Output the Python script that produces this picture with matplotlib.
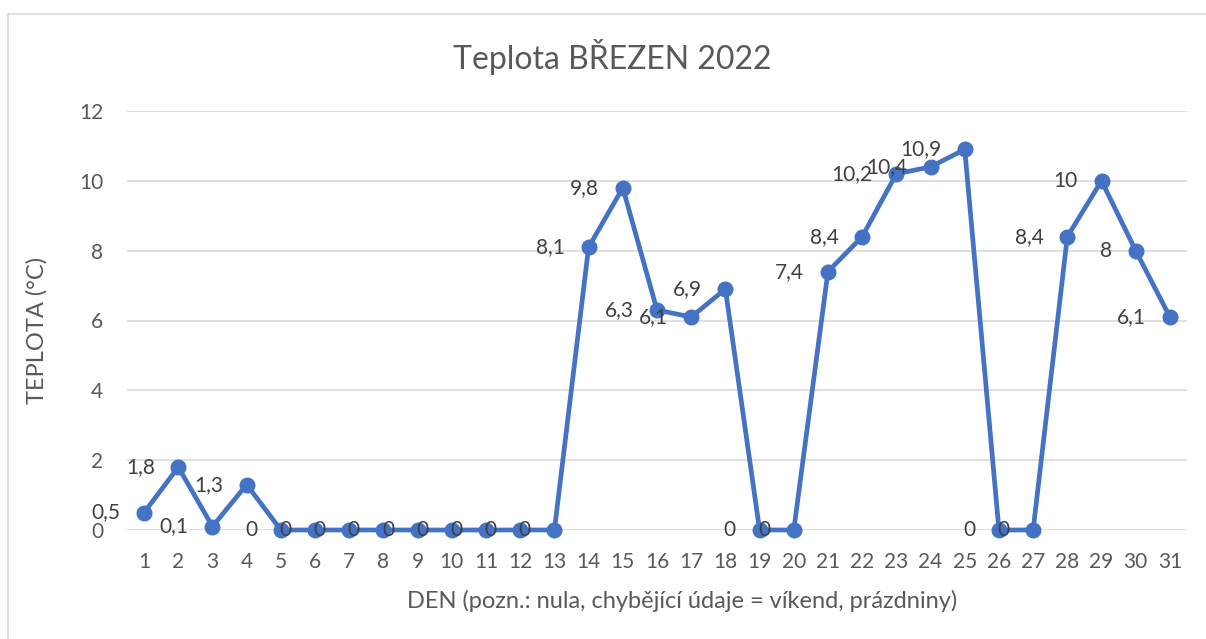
import matplotlib.pyplot as plt
from matplotlib.lines import Line2D

days = list(range(1, 32))
teplota = [0.5, 1.8, 0.1, 1.3, 0, 0, 0, 0, 0, 0, 0, 0, 0,
           8.1, 9.8, 6.3, 6.1, 6.9, 0, 0, 7.4, 8.4, 10.2, 10.4, 10.9,
           0, 0, 8.4, 10, 8, 6.1]
y_ticks = [0, 2, 4, 6, 8, 10, 12]


def fmt(v):
    return ("%g" % v).replace(".", ",")


def main():
    plt.rcParams['font.family'] = ['Lato', 'DejaVu Sans']
    fig = plt.figure(figsize=(12.06, 6.39), dpi=100)
    W, H = 1206, 639

    # outer chart border (only left/top visible)
    x0, y0 = 7.5 / W, 1 - 13.5 / H
    fig.add_artist(Line2D([x0, x0], [-0.1, y0], transform=fig.transFigure,
                          color='#d9d9d9', linewidth=1.2))
    fig.add_artist(Line2D([x0, 1.1], [y0, y0], transform=fig.transFigure,
                          color='#d9d9d9', linewidth=1.2))

    ax = fig.add_axes([127 / W, 1 - 530 / H, (1187 - 127) / W, (530 - 111) / H])
    ax.plot(days, teplota, color='#4472c4', linewidth=3.4, marker='o',
            markersize=10.5, solid_capstyle='round', zorder=3, clip_on=False)

    for d, v in zip(days, teplota):
        ax.annotate(fmt(v), (d, v), xytext=(-17, 0), textcoords='offset points',
                    ha='right', va='center', fontsize=15, color='#404040', zorder=4)

    ax.set_xlim(0.5, 31.5)
    ax.set_ylim(0, 12)
    ax.set_xticks(days)
    ax.set_xticklabels([str(d) for d in days])
    ax.set_yticks(y_ticks)
    ax.set_yticklabels([str(t) for t in y_ticks])
    ax.tick_params(axis='both', length=0, labelsize=15, labelcolor='#595959')
    ax.tick_params(axis='x', pad=16)
    ax.tick_params(axis='y', pad=17)
    ax.grid(axis='y', color='#d9d9d9', linewidth=1.2)
    ax.set_axisbelow(True)
    for s in ax.spines.values():
        s.set_visible(False)

    fig.text(612 / W, 1 - 57 / H, 'Teplota BŘEZEN 2022', ha='center', va='center',
             fontsize=23, color='#595959')
    fig.text(682 / W, 1 - 601 / H, 'DEN (pozn.: nula, chybějící údaje = víkend, prázdniny)',
             ha='center', va='center', fontsize=17, color='#595959')
    fig.text(37 / W, 1 - 330 / H, 'TEPLOTA (°C)', ha='center', va='center',
             rotation=90, fontsize=17, color='#595959')

    fig.savefig('out.png', dpi=100)


main()
